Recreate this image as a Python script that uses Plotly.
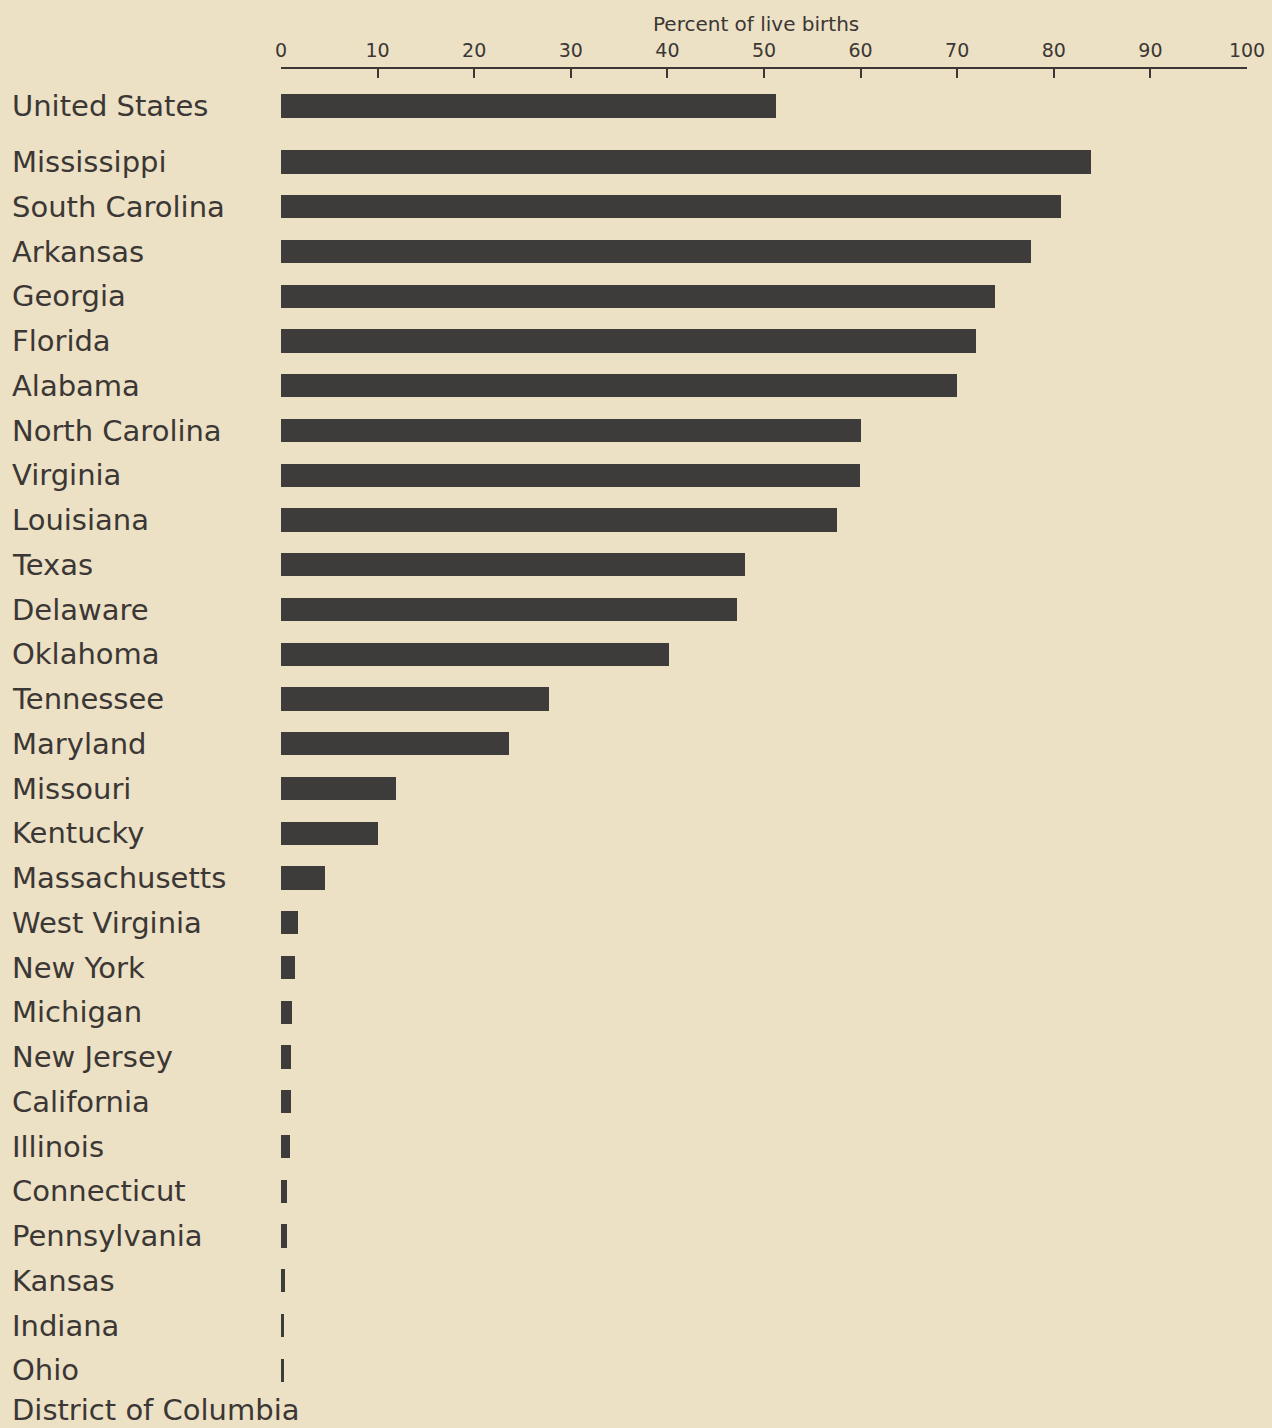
import plotly.graph_objects as go

# ---- data ----
us_label = "United States"
us_value = 51.2
states = ["Mississippi", "South Carolina", "Arkansas", "Georgia", "Florida",
          "Alabama", "North Carolina", "Virginia", "Louisiana", "Texas",
          "Delaware", "Oklahoma", "Tennessee", "Maryland", "Missouri",
          "Kentucky", "Massachusetts", "West Virginia", "New York", "Michigan",
          "New Jersey", "California", "Illinois", "Connecticut", "Pennsylvania",
          "Kansas", "Indiana", "Ohio", "District of Columbia"]
values = [83.9, 80.7, 77.6, 73.9, 71.9,
          70.0, 60.0, 59.9, 57.6, 48.0,
          47.2, 40.2, 27.7, 23.6, 11.9,
          10.0, 4.6, 1.8, 1.4, 1.1,
          1.0, 1.0, 0.95, 0.6, 0.6,
          0.4, 0.3, 0.3, 0.0]
x_ticks = [0, 10, 20, 30, 40, 50, 60, 70, 80, 90, 100]
x_title = "Percent of live births"

# ---- layout helpers ----
US_GAP = 1.25  # US row sits slightly apart above the states
labels = [us_label] + states
vals = [us_value] + values
ypos = [-US_GAP] + list(range(len(states)))

BG = "#ece0c5"
INK = "#3b3734"
BAR = "#3e3c3a"
FONT = "DejaVu Sans"

W, H = 1272, 1428
ML, MR, MT, MB = 281, 25, 69, 0
plot_w = W - ML - MR

fig = go.Figure()
fig.add_trace(go.Bar(
    x=vals, y=ypos, orientation="h",
    marker=dict(color=BAR, line=dict(width=0)),
    width=0.52, showlegend=False, hoverinfo="x+text", text=labels,
    textposition="none",
))

annotations = []
label_x = (10 - ML) / plot_w
for i, (lab, yy) in enumerate(zip(labels, ypos)):
    last = i == len(labels) - 1
    annotations.append(dict(
        x=label_x, xref="paper", y=yy, yref="y",
        text=lab, showarrow=False, xanchor="left", yanchor="middle",
        yshift=5 if last else 0,
        font=dict(family=FONT, size=29, color=INK),
    ))
annotations.append(dict(
    x=(756 - ML) / plot_w, xref="paper",
    y=1 + (69 - 24) / (H - MT - MB), yref="paper",
    text=x_title, showarrow=False, xanchor="center", yanchor="middle",
    font=dict(family=FONT, size=20, color=INK),
))

px_per_row = 44.75
top_val = (MT - 162) / px_per_row
bot_val = (H - MB - 162) / px_per_row

fig.update_layout(
    width=W, height=H,
    margin=dict(l=ML, r=MR, t=MT, b=MB, pad=0),
    paper_bgcolor=BG, plot_bgcolor=BG,
    annotations=annotations,
    xaxis=dict(
        side="top", range=[0, 100], tickvals=x_ticks,
        ticktext=[str(t) for t in x_ticks],
        ticks="inside", ticklen=9, tickwidth=1.5, tickcolor=INK,
        showline=True, linecolor=INK, linewidth=1.5,
        showgrid=False, zeroline=False,
        tickfont=dict(family=FONT, size=19, color=INK),
        ticklabelstandoff=3,
    ),
    yaxis=dict(
        range=[bot_val, top_val], showticklabels=False, showgrid=False,
        zeroline=False, showline=False, ticks="",
    ),
    bargap=0,
)

fig.write_html(
    "out.html",
    config={"displayModeBar": False},
    post_script="document.body.style.margin='0';document.body.style.background='" + BG + "';document.body.style.overflow='hidden';",
)
